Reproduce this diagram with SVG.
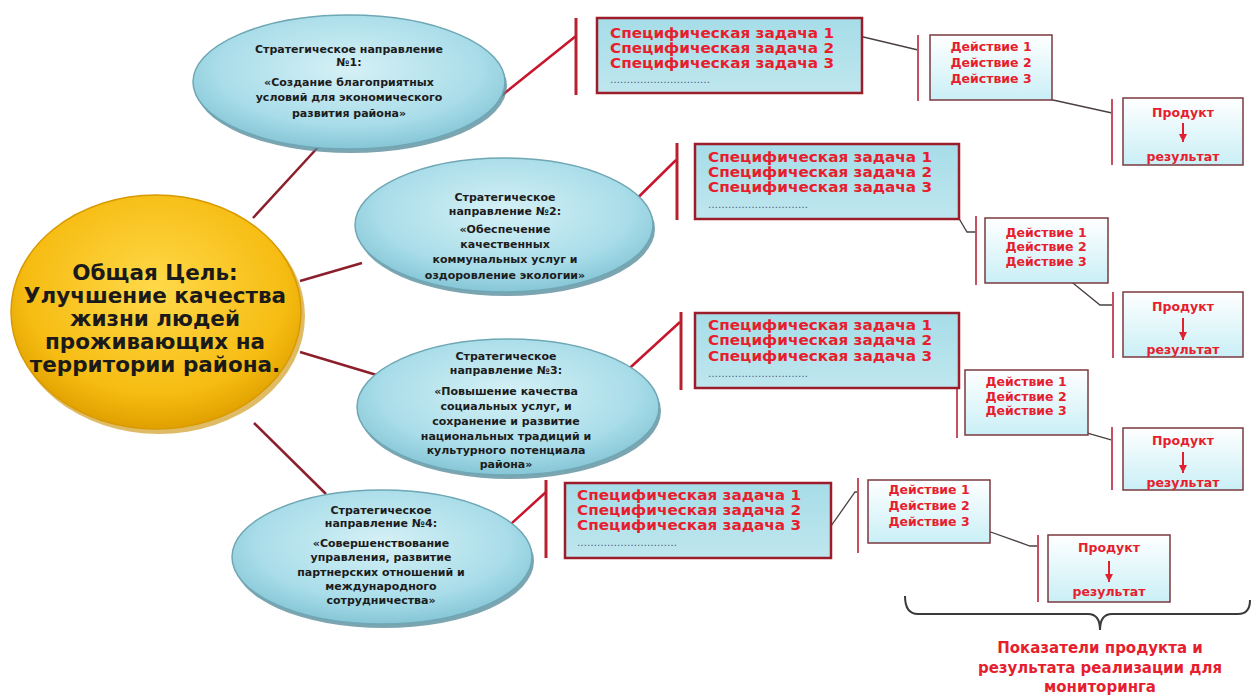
<svg xmlns="http://www.w3.org/2000/svg" width="1252" height="695" viewBox="0 0 1252 695">
<defs>
<radialGradient id="gBlue" cx="50%" cy="40%" r="60%">
<stop offset="0" stop-color="#d6f1f6"/><stop offset="0.7" stop-color="#a9dde9"/><stop offset="1" stop-color="#86c6d6"/>
</radialGradient>
<radialGradient id="gGold" cx="50%" cy="40%" r="60%">
<stop offset="0" stop-color="#ffd94a"/><stop offset="0.75" stop-color="#f6bc12"/><stop offset="1" stop-color="#e0a000"/>
</radialGradient>
<linearGradient id="gTask" x1="0" y1="0" x2="0" y2="1">
<stop offset="0" stop-color="#a6dde8"/><stop offset="1" stop-color="#bfe6ee"/>
</linearGradient>
<linearGradient id="gAct" x1="0" y1="0" x2="0" y2="1">
<stop offset="0" stop-color="#ffffff"/><stop offset="1" stop-color="#c9eff6"/>
</linearGradient>
<marker id="ar" viewBox="0 0 10 10" refX="10" refY="5" markerWidth="8" markerHeight="8" orient="auto" markerUnits="userSpaceOnUse">
<path d="M0,0 L10,5 L0,10 z" fill="#e0202e"/>
</marker>
</defs>
<style>
.sh{fill:#4f8795;opacity:0.75}
.el{fill:url(#gBlue);stroke:#6fa7b5;stroke-width:1.5}
.et{font-family:"DejaVu Sans",sans-serif;font-weight:bold;font-size:11px;fill:#1c1c1c;text-anchor:middle}
.gt{font-family:"DejaVu Sans",sans-serif;font-weight:bold;font-size:21.5px;fill:#1a1a1a;text-anchor:middle}
.task{fill:url(#gTask);stroke:#9c1c2a;stroke-width:2.5}
.tt{font-family:"DejaVu Sans",sans-serif;font-weight:bold;font-size:13.5px;fill:#e61e2e}
.dots{font-family:"DejaVu Sans",sans-serif;font-size:10px;fill:#4a5a7a}
.act{fill:url(#gAct);stroke:#7a3a40;stroke-width:1.5}
.at{font-family:"DejaVu Sans",sans-serif;font-weight:bold;font-size:12.5px;fill:#e61e2e;text-anchor:middle}
.l1{stroke:#8c1f2c;stroke-width:2.5;fill:none}
.l2{stroke:#c8142c;stroke-width:2.5;fill:none}
.bar{stroke:#b8202e;stroke-width:3;fill:none}
.bar2{stroke:#c65060;stroke-width:2;fill:none}
.l3{stroke:#4a4040;stroke-width:1.3;fill:none}
.arr{stroke:#e0202e;stroke-width:2;fill:none}
.bt{font-family:"DejaVu Sans",sans-serif;font-weight:bold;font-size:15px;fill:#e61e2e;text-anchor:middle}
</style>
<rect width="1252" height="695" fill="#ffffff"/>

<g id="connectors">
<line class="l1" x1="253" y1="218" x2="320" y2="145"/>
<line class="l1" x1="300" y1="281" x2="362" y2="263"/>
<line class="l1" x1="300" y1="352" x2="380" y2="376"/>
<line class="l1" x1="254" y1="423" x2="326" y2="494"/>
<line class="l2" x1="496" y1="100" x2="576" y2="36"/>
<line class="l2" x1="597" y1="238" x2="676" y2="160"/>
<line class="l2" x1="597" y1="398" x2="680" y2="322"/>
<line class="l2" x1="466" y1="565" x2="546" y2="492"/>
<line class="bar" x1="576" y1="18" x2="576" y2="95"/>
<line class="bar" x1="677" y1="143" x2="677" y2="220"/>
<line class="bar" x1="681" y1="312" x2="681" y2="390"/>
<line class="bar" x1="546" y1="480" x2="546" y2="558"/>
<polyline class="l3" points="834,30 918,50"/>
<polyline class="l3" points="935,178 967,232 976,232"/>
<polyline class="l3" points="940,346 942,380 957,388"/>
<polyline class="l3" points="812,553 855,492 858,492"/>
<polyline class="l3" points="1010,87 1053,100 1112,113"/>
<polyline class="l3" points="1063,275 1100,305 1113,305"/>
<polyline class="l3" points="1070,428 1112,440"/>
<polyline class="l3" points="985,530 1030,546 1038,546"/>
<line class="bar2" x1="918" y1="35" x2="918" y2="101"/>
<line class="bar2" x1="976" y1="216" x2="976" y2="285"/>
<line class="bar2" x1="957" y1="363" x2="957" y2="438"/>
<line class="bar2" x1="858" y1="478" x2="858" y2="553"/>
<line class="bar2" x1="1112" y1="99" x2="1112" y2="165"/>
<line class="bar2" x1="1113" y1="292" x2="1113" y2="358"/>
<line class="bar2" x1="1112" y1="427" x2="1112" y2="490"/>
<line class="bar2" x1="1038" y1="535" x2="1038" y2="602"/>
</g>

<g id="goal">
<ellipse cx="159" cy="316" rx="146" ry="118" fill="#c98d00" opacity="0.6"/>
<ellipse cx="156" cy="312" rx="145" ry="117" fill="url(#gGold)" stroke="#d89a00" stroke-width="1.5"/>
<text class="gt"><tspan x="155" y="280">Общая Цель:</tspan><tspan x="155" y="303">Улучшение качества</tspan><tspan x="155" y="326">жизни людей</tspan><tspan x="155" y="349">проживающих на</tspan><tspan x="155" y="372">территории района.</tspan></text>
</g>

<g id="sd1">
<ellipse class="sh" cx="351" cy="86" rx="156" ry="67"/>
<ellipse class="el" cx="349" cy="82" rx="156" ry="67"/>
<text class="et"><tspan x="349" y="53">Стратегическое направление</tspan><tspan x="349" y="66">№1:</tspan><tspan x="349" y="86">«Создание благоприятных</tspan><tspan x="349" y="101">условий для экономического</tspan><tspan x="349" y="117">развития района»</tspan></text>
</g>

<g id="sd2">
<ellipse class="sh" cx="506" cy="229" rx="149" ry="67"/>
<ellipse class="el" cx="504" cy="225" rx="149" ry="67"/>
<text class="et"><tspan x="505" y="201">Стратегическое</tspan><tspan x="505" y="215">направление №2:</tspan><tspan x="505" y="233">«Обеспечение</tspan><tspan x="505" y="248">качественных</tspan><tspan x="505" y="263">коммунальных услуг и</tspan><tspan x="505" y="279">оздоровление экологии»</tspan></text>
</g>

<g id="sd3">
<ellipse class="sh" cx="510" cy="411" rx="151" ry="68"/>
<ellipse class="el" cx="508" cy="407" rx="151" ry="68"/>
<text class="et"><tspan x="506" y="360">Стратегическое</tspan><tspan x="506" y="374">направление №3:</tspan><tspan x="506" y="395">«Повышение качества</tspan><tspan x="506" y="410">социальных услуг, и</tspan><tspan x="506" y="425">сохранение и развитие</tspan><tspan x="506" y="440">национальных традиций и</tspan><tspan x="506" y="454">культурного потенциала</tspan><tspan x="506" y="468">района»</tspan></text>
</g>

<g id="sd4">
<ellipse class="sh" cx="384" cy="561" rx="150" ry="67"/>
<ellipse class="el" cx="382" cy="557" rx="150" ry="67"/>
<text class="et"><tspan x="381" y="514">Стратегическое</tspan><tspan x="381" y="527">направление №4:</tspan><tspan x="381" y="547">«Совершенствование</tspan><tspan x="381" y="561">управления, развитие</tspan><tspan x="381" y="576">партнерских отношений и</tspan><tspan x="381" y="590">международного</tspan><tspan x="381" y="604">сотрудничества»</tspan></text>
</g>

<g id="tasks1">
<rect class="task" x="597" y="18" width="265" height="75"/>
<text class="tt" x="610" y="38" textLength="224" lengthAdjust="spacingAndGlyphs">Специфическая задача 1</text>
<text class="tt" x="610" y="53" textLength="224" lengthAdjust="spacingAndGlyphs">Специфическая задача 2</text>
<text class="tt" x="610" y="68" textLength="224" lengthAdjust="spacingAndGlyphs">Специфическая задача 3</text>
<text class="dots" x="610" y="83" textLength="100">…………………………</text>
</g>
<g id="tasks2">
<rect class="task" x="695" y="144" width="264" height="75"/>
<text class="tt" x="708" y="162" textLength="224" lengthAdjust="spacingAndGlyphs">Специфическая задача 1</text>
<text class="tt" x="708" y="177" textLength="224" lengthAdjust="spacingAndGlyphs">Специфическая задача 2</text>
<text class="tt" x="708" y="192" textLength="224" lengthAdjust="spacingAndGlyphs">Специфическая задача 3</text>
<text class="dots" x="708" y="208" textLength="100">…………………………</text>
</g>
<g id="tasks3">
<rect class="task" x="695" y="313" width="264" height="75"/>
<text class="tt" x="708" y="330" textLength="224" lengthAdjust="spacingAndGlyphs">Специфическая задача 1</text>
<text class="tt" x="708" y="345" textLength="224" lengthAdjust="spacingAndGlyphs">Специфическая задача 2</text>
<text class="tt" x="708" y="361" textLength="224" lengthAdjust="spacingAndGlyphs">Специфическая задача 3</text>
<text class="dots" x="708" y="377" textLength="100">…………………………</text>
</g>
<g id="tasks4">
<rect class="task" x="565" y="483" width="266" height="75"/>
<text class="tt" x="577" y="500" textLength="224" lengthAdjust="spacingAndGlyphs">Специфическая задача 1</text>
<text class="tt" x="577" y="515" textLength="224" lengthAdjust="spacingAndGlyphs">Специфическая задача 2</text>
<text class="tt" x="577" y="530" textLength="224" lengthAdjust="spacingAndGlyphs">Специфическая задача 3</text>
<text class="dots" x="577" y="546" textLength="100">…………………………</text>
</g>

<g id="actions1">
<rect class="act" x="930" y="35" width="122" height="65"/>
<text class="at"><tspan x="991" y="51">Действие 1</tspan><tspan x="991" y="67">Действие 2</tspan><tspan x="991" y="83">Действие 3</tspan></text>
</g>
<g id="actions2">
<rect class="act" x="985" y="218" width="123" height="65"/>
<text class="at"><tspan x="1046" y="237">Действие 1</tspan><tspan x="1046" y="251">Действие 2</tspan><tspan x="1046" y="266">Действие 3</tspan></text>
</g>
<g id="actions3">
<rect class="act" x="965" y="370" width="123" height="65"/>
<text class="at"><tspan x="1026" y="386">Действие 1</tspan><tspan x="1026" y="401">Действие 2</tspan><tspan x="1026" y="415">Действие 3</tspan></text>
</g>
<g id="actions4">
<rect class="act" x="868" y="480" width="122" height="63"/>
<text class="at"><tspan x="929" y="494">Действие 1</tspan><tspan x="929" y="510">Действие 2</tspan><tspan x="929" y="526">Действие 3</tspan></text>
</g>

<g id="product1">
<rect class="act" x="1123" y="98" width="120" height="67"/>
<text class="at" x="1183" y="117">Продукт</text>
<line class="arr" x1="1183" y1="123" x2="1183" y2="142" marker-end="url(#ar)"/>
<text class="at" x="1183" y="161">результат</text>
</g>
<g id="product2">
<rect class="act" x="1123" y="292" width="120" height="65"/>
<text class="at" x="1183" y="311">Продукт</text>
<line class="arr" x1="1183" y1="318" x2="1183" y2="340" marker-end="url(#ar)"/>
<text class="at" x="1183" y="354">результат</text>
</g>
<g id="product3">
<rect class="act" x="1123" y="428" width="120" height="62"/>
<text class="at" x="1183" y="445">Продукт</text>
<line class="arr" x1="1183" y1="452" x2="1183" y2="473" marker-end="url(#ar)"/>
<text class="at" x="1183" y="487">результат</text>
</g>
<g id="product4">
<rect class="act" x="1048" y="535" width="122" height="67"/>
<text class="at" x="1109" y="552">Продукт</text>
<line class="arr" x1="1109" y1="561" x2="1109" y2="582" marker-end="url(#ar)"/>
<text class="at" x="1109" y="596">результат</text>
</g>

<g id="indicators">
<path d="M905,596 Q905,614 918,614 L1088,614 Q1100,614 1100,630 Q1100,614 1112,614 L1238,614 Q1250,614 1250,600" fill="none" stroke="#3a3a3a" stroke-width="2"/>
<text class="bt"><tspan x="1100" y="653">Показатели продукта и</tspan><tspan x="1100" y="673">результата реализации для</tspan><tspan x="1100" y="692">мониторинга</tspan></text>
</g>
</svg>
